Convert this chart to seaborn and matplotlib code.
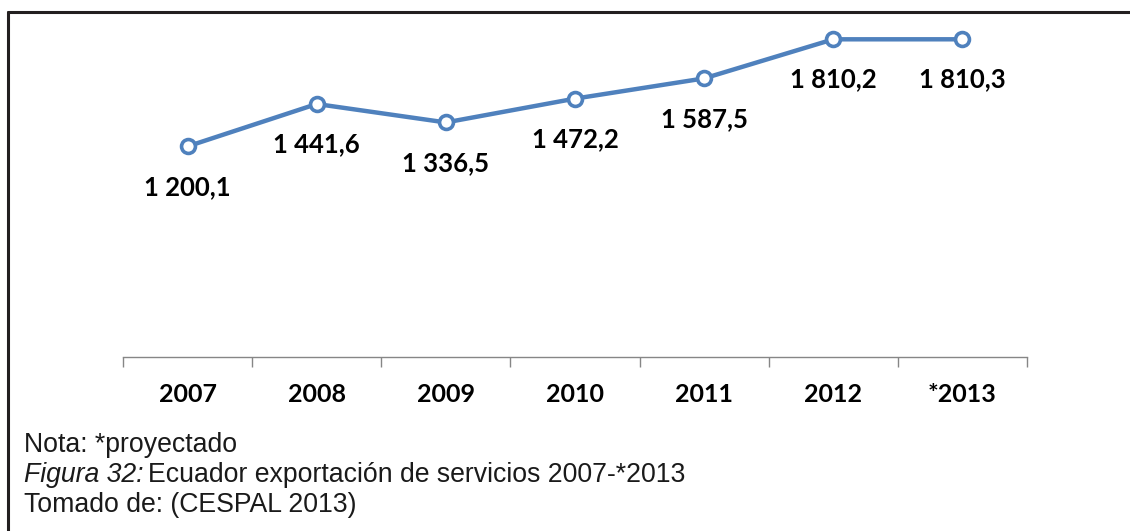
import matplotlib
matplotlib.use("Agg")
import matplotlib.pyplot as plt
import seaborn as sns
import pandas as pd
from matplotlib.ticker import FixedLocator

anios = ['2007', '2008', '2009', '2010', '2011', '2012', '*2013']
valores = [1200.1, 1441.6, 1336.5, 1472.2, 1587.5, 1810.2, 1810.3]
etiquetas = ['1 200,1', '1 441,6', '1 336,5', '1 472,2', '1 587,5', '1 810,2', '1 810,3']

azul = '#4F81BD'
df = pd.DataFrame({'anio': anios, 'valor': valores})

sns.set_style('white')
plt.rcParams['font.family'] = ['Lato', 'DejaVu Sans']

fig = plt.figure(figsize=(11.3, 5.31), dpi=100)
ax = fig.add_axes([123 / 1130, (531 - 357) / 531, (1027 - 123) / 1130, 351 / 531])

sns.lineplot(data=df, x='anio', y='valor', sort=False, ax=ax, color=azul,
             linewidth=3.2, marker='o', markersize=10, markerfacecolor='white',
             markeredgecolor=azul, markeredgewidth=2.6)

for i, (v, t) in enumerate(zip(valores, etiquetas)):
    ax.annotate(t, (i, v), xytext=(0, -29), textcoords='offset points',
                ha='center', va='center', fontsize=18.5, fontweight='bold', color='black')

ax.set_xlim(-0.5, 6.5)
ax.set_ylim(0, 2000)
ax.set_xlabel('')
ax.set_ylabel('')
ax.set_yticks([])
for s in ['top', 'left', 'right']:
    ax.spines[s].set_visible(False)
ax.spines['bottom'].set_color('#868686')
ax.spines['bottom'].set_linewidth(1)

ax.xaxis.set_minor_locator(FixedLocator([i - 0.5 for i in range(8)]))
ax.tick_params(axis='x', which='both', bottom=True)
ax.tick_params(axis='x', which='major', length=0, pad=19, labelsize=18, labelcolor='black')
ax.tick_params(axis='x', which='minor', length=7, width=1, color='#868686', direction='out')
for lab in ax.get_xticklabels():
    lab.set_fontweight('bold')

# marco del recuadro (solo arriba e izquierda)
fig.add_artist(plt.Line2D([7.5 / 1130, 1], [1 - 12 / 531, 1 - 12 / 531],
                          transform=fig.transFigure, color='#231f20', linewidth=2.2))
fig.add_artist(plt.Line2D([7.5 / 1130, 7.5 / 1130], [0, 1 - 12 / 531],
                          transform=fig.transFigure, color='#231f20', linewidth=2.2))

cap = dict(fontsize=19.2, family=['Liberation Sans', 'DejaVu Sans'], color='#1a1a1a')
x0 = 24 / 1130
fig.text(x0, 1 - 452 / 531, 'Nota: *proyectado', va='baseline', **cap)
t1 = fig.text(x0, 1 - 482 / 531, 'Figura 32:', va='baseline', style='italic', **cap)
fig.canvas.draw()
bb = t1.get_window_extent()
fig.text((bb.x1 + 5) / 1130, 1 - 482 / 531, 'Ecuador exportación de servicios 2007-*2013',
         va='baseline', **cap)
fig.text(x0, 1 - 512 / 531, 'Tomado de: (CESPAL 2013)', va='baseline', **cap)

fig.savefig('out.png', dpi=100)
